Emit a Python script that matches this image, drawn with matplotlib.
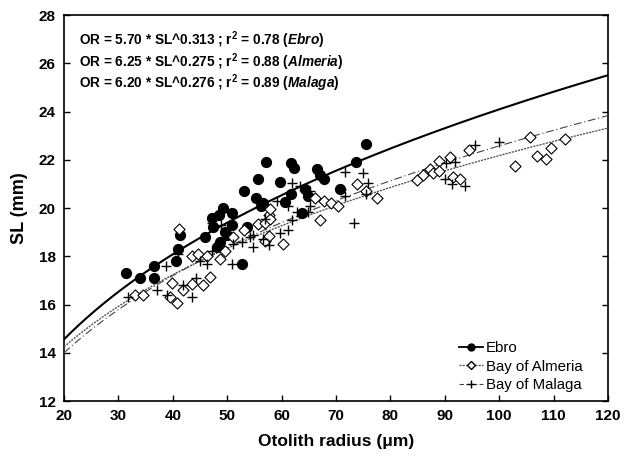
import numpy as np
import matplotlib
matplotlib.use("Agg")
import matplotlib.pyplot as plt
from matplotlib.lines import Line2D

plt.rcParams["font.family"] = ["Liberation Sans", "DejaVu Sans"]
plt.rcParams["mathtext.fontset"] = "custom"
plt.rcParams["mathtext.rm"] = "Liberation Sans:bold"
plt.rcParams["mathtext.it"] = "Liberation Sans:bold:italic"
plt.rcParams["mathtext.bf"] = "Liberation Sans:bold"

# ==========================================
# DATA
# ==========================================

ebro_x = [31.4, 34.0, 36.5, 36.5, 40.6, 41.0, 41.4, 45.9, 47.3, 47.2,
          48.4, 49.3, 50.8, 50.8, 49.6, 49.9, 48.7, 48.1, 52.7, 53.0,
          55.3, 55.7, 53.6, 75.6, 57.1, 61.7, 62.2, 66.5, 67.1, 67.7,
          73.7, 59.7, 56.6, 56.2, 60.6, 61.8, 64.3, 64.9, 70.7, 63.7]
ebro_y = [17.3, 17.1, 17.6, 17.1, 17.8, 18.3, 18.9, 18.8, 19.2, 19.6,
          19.7, 20.0, 19.8, 19.3, 19.0, 18.9, 18.6, 18.4, 17.7, 20.7,
          20.4, 21.2, 19.2, 22.65, 21.9, 21.85, 21.65, 21.6, 21.35, 21.2,
          21.9, 21.1, 20.2, 20.1, 20.25, 20.6, 20.8, 20.5, 20.8, 19.8]

almeria_x = [33.1, 34.6, 39.4, 40.7, 39.8, 41.9, 41.2, 43.5, 43.6, 44.7,
             45.6, 46.2, 46.8, 48.7, 49.6, 51.1, 53.0, 55.7, 57.0, 57.6,
             57.0, 57.6, 57.9, 57.9, 60.2, 66.1, 67.7, 69.0, 70.4, 67.1,
             73.9, 75.5, 77.5, 84.8, 86.0, 87.3, 87.9, 89.0, 89.0, 91.0,
             91.5, 92.7, 94.4, 102.9, 105.7, 106.9, 108.6, 109.5, 112.1]
almeria_y = [16.4, 16.4, 16.3, 16.05, 16.9, 16.6, 19.15, 18.0, 16.85, 18.1,
             16.8, 18.0, 17.15, 17.9, 18.2, 18.8, 19.1, 19.35, 18.65, 18.85,
             19.4, 19.7, 19.55, 19.95, 18.5, 20.4, 20.3, 20.2, 20.1, 19.5,
             21.0, 20.7, 20.4, 21.15, 21.35, 21.6, 21.45, 21.95, 21.55, 22.1,
             21.3, 21.2, 22.4, 21.75, 22.95, 22.15, 22.05, 22.5, 22.85]

malaga_x = [31.8, 37.0, 38.9, 38.8, 41.0, 41.9, 43.5, 44.3, 45.0, 46.2,
            47.2, 47.2, 50.8, 51.1, 52.7, 54.1, 54.7, 54.8, 56.6, 57.7,
            57.0, 59.7, 61.2, 61.9, 62.8, 64.9, 65.2, 61.2, 59.1, 61.9,
            63.4, 65.2, 71.0, 71.7, 71.7, 75.0, 75.9, 75.6, 73.3, 90.0,
            91.3, 93.7, 90.3, 91.9, 95.5, 100.0, 48.9]
malaga_y = [16.3, 16.6, 16.4, 17.6, 18.1, 16.8, 16.3, 17.1, 17.8, 17.7,
            18.2, 19.4, 17.7, 18.5, 18.6, 18.8, 18.4, 18.9, 18.7, 18.45,
            19.55, 18.95, 19.1, 19.5, 19.85, 19.85, 20.1, 20.1, 20.3, 21.05,
            20.9, 20.7, 20.8, 20.5, 21.5, 21.45, 21.05, 20.6, 19.4, 21.2,
            21.0, 20.9, 21.85, 21.9, 22.6, 22.75, 19.3]

# fitted power curves SL = a * OR^b (as drawn)
fit_a = [5.70, 6.25, 5.75]
fit_b = [0.313, 0.275, 0.297]

eq_lines = [
    "OR = 5.70 * SL^0.313 ; r$^{2}$ = 0.78 ($\\mathit{Ebro}$)",
    "OR = 6.25 * SL^0.275 ; r$^{2}$ = 0.88 ($\\mathit{Almeria}$)",
    "OR = 6.20 * SL^0.276 ; r$^{2}$ = 0.89 ($\\mathit{Malaga}$)",
]

# ==========================================
# PLOT
# ==========================================

fig = plt.figure(figsize=(6.24, 4.57), dpi=100)
ax = fig.add_axes([0.1026, 0.1225, 0.8718, 0.8445])

xc = np.linspace(20, 120, 300)

ax.plot(xc, fit_a[0] * xc ** fit_b[0], color="black", lw=1.5, zorder=3)
ax.plot(xc, fit_a[1] * xc ** fit_b[1], color="#555555", lw=1.0,
        linestyle=(0, (1.5, 0.8)), zorder=3)
ax.plot(xc, fit_a[2] * xc ** fit_b[2], color="#444444", lw=0.8,
        linestyle=(0, (7, 2.5, 1, 2.5)), zorder=3)

ax.scatter(ebro_x, ebro_y, s=50, marker="o", color="black", zorder=4)
ax.scatter(almeria_x, almeria_y, s=32, marker="D", facecolor="white",
           edgecolor="black", linewidths=0.8, zorder=4)
ax.scatter(malaga_x, malaga_y, s=55, marker="+", color="black",
           linewidths=1.0, zorder=4)

for i, line in enumerate(eq_lines):
    ax.text(0.027, 0.963 - i * 0.056, line, transform=ax.transAxes,
            fontsize=9.8, fontweight="bold", va="top", ha="left")

handles = [
    Line2D([], [], color="black", lw=1.3, marker="o", markersize=5),
    Line2D([], [], color="#555555", lw=1.0, linestyle=(0, (1.5, 0.8)),
           marker="D", markersize=4, markerfacecolor="white",
           markeredgecolor="black"),
    Line2D([], [], color="#444444", lw=0.8, linestyle=(0, (4, 2)),
           marker="+", markersize=6, markeredgecolor="black"),
]
ax.legend(handles, ["Ebro", "Bay of Almeria", "Bay of Malaga"],
          loc="lower right", bbox_to_anchor=(0.97, 0.0), frameon=False,
          fontsize=10.8, handlelength=1.6, handletextpad=0.2,
          labelspacing=0.3, borderaxespad=0.2, markerfirst=True)

ax.set_xlim(20, 120)
ax.set_ylim(12, 28)
ax.set_xticks(range(20, 121, 10))
ax.set_yticks(range(12, 29, 2))
ax.tick_params(direction="in", length=4, width=1, right=True,
               labelsize=11, pad=6)
for lab in ax.get_xticklabels() + ax.get_yticklabels():
    lab.set_fontweight("bold")
for sp in ax.spines.values():
    sp.set_linewidth(1.2)

ax.set_xlabel("Otolith radius (\u03bcm)", fontsize=12.5, fontweight="bold",
              labelpad=8)
ax.set_ylabel("SL (mm)", fontsize=13, fontweight="bold", labelpad=8)

fig.savefig("out.png", dpi=100)
